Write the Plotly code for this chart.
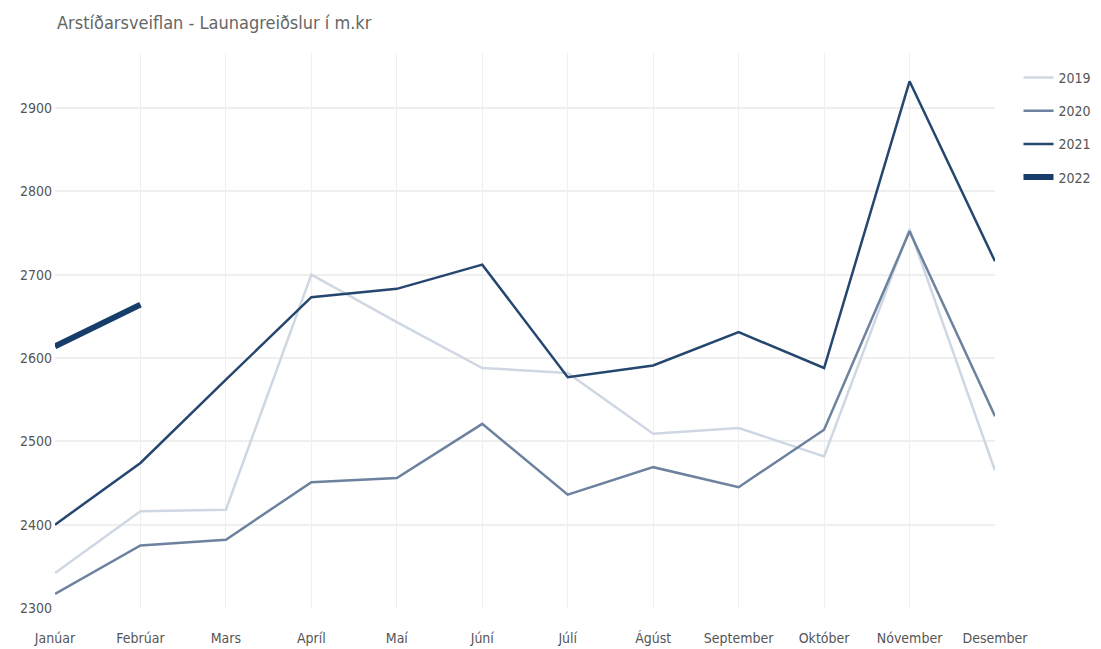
import plotly.graph_objects as go

months = ["Janúar", "Febrúar", "Mars", "Apríl", "Maí", "Júní", "Júlí", "Ágúst",
          "September", "Október", "Nóvember", "Desember"]
years = ["2019", "2020", "2021", "2022"]
v2019 = [2342, 2416, 2418, 2700, 2643, 2588, 2582, 2509, 2516, 2482, 2755, 2465]
v2020 = [2317, 2375, 2382, 2451, 2456, 2521, 2436, 2469, 2445, 2514, 2752, 2530]
v2021 = [2400, 2474, 2574, 2673, 2683, 2712, 2577, 2591, 2631, 2588, 2932, 2716]
v2022 = [2614, 2664]
yticks = [2300, 2400, 2500, 2600, 2700, 2800, 2900]

series = [v2019, v2020, v2021, v2022]
colors = ["#cfd8e2", "#6c829f", "#25476f", "#173d6b"]
widths = [2.5, 2.5, 2.5, 6]

FONT = "DejaVu Sans Condensed, Liberation Sans Narrow, sans-serif"

fig = go.Figure()
for name, vals, c, w in zip(years, series, colors, widths):
    fig.add_trace(go.Scatter(
        x=months[:len(vals)], y=vals, name=name, mode="lines",
        line=dict(color=c, width=w), legendgroup=name,
    ))

fig.update_layout(
    width=1101, height=649,
    paper_bgcolor="white", plot_bgcolor="white",
    margin=dict(l=47, r=114, t=45, b=49),
    font=dict(family=FONT, size=14, color="#555555"),
    title=dict(text="Arstíðarsveiflan - Launagreiðslur í m.kr", x=0.0445, xanchor="left",
               y=0.978, yanchor="middle", pad=dict(l=0, t=0, b=0, r=0),
               font=dict(size=18, color="#666666", family=FONT)),
    legend=dict(x=1.025, y=0.984, xanchor="left", yanchor="top", tracegroupgap=12,
                font=dict(size=14, color="#555555"), bgcolor="rgba(0,0,0,0)"),
    xaxis=dict(categoryorder="array", categoryarray=months, range=[0, 11],
               showgrid=True, gridcolor="#efefef", zeroline=False, showline=False,
               ticks="", automargin=False, ticklabelstandoff=20,
               tickfont=dict(size=14, color="#555555")),
    yaxis=dict(range=[2300, 2966], tickvals=yticks, showgrid=True, gridcolor="#efefef",
               gridwidth=1.5, zeroline=False, showline=False, ticks="", automargin=False,
               ticklabelstandoff=2, tickfont=dict(size=14, color="#555555")),
)

fig.write_html("out.html")
